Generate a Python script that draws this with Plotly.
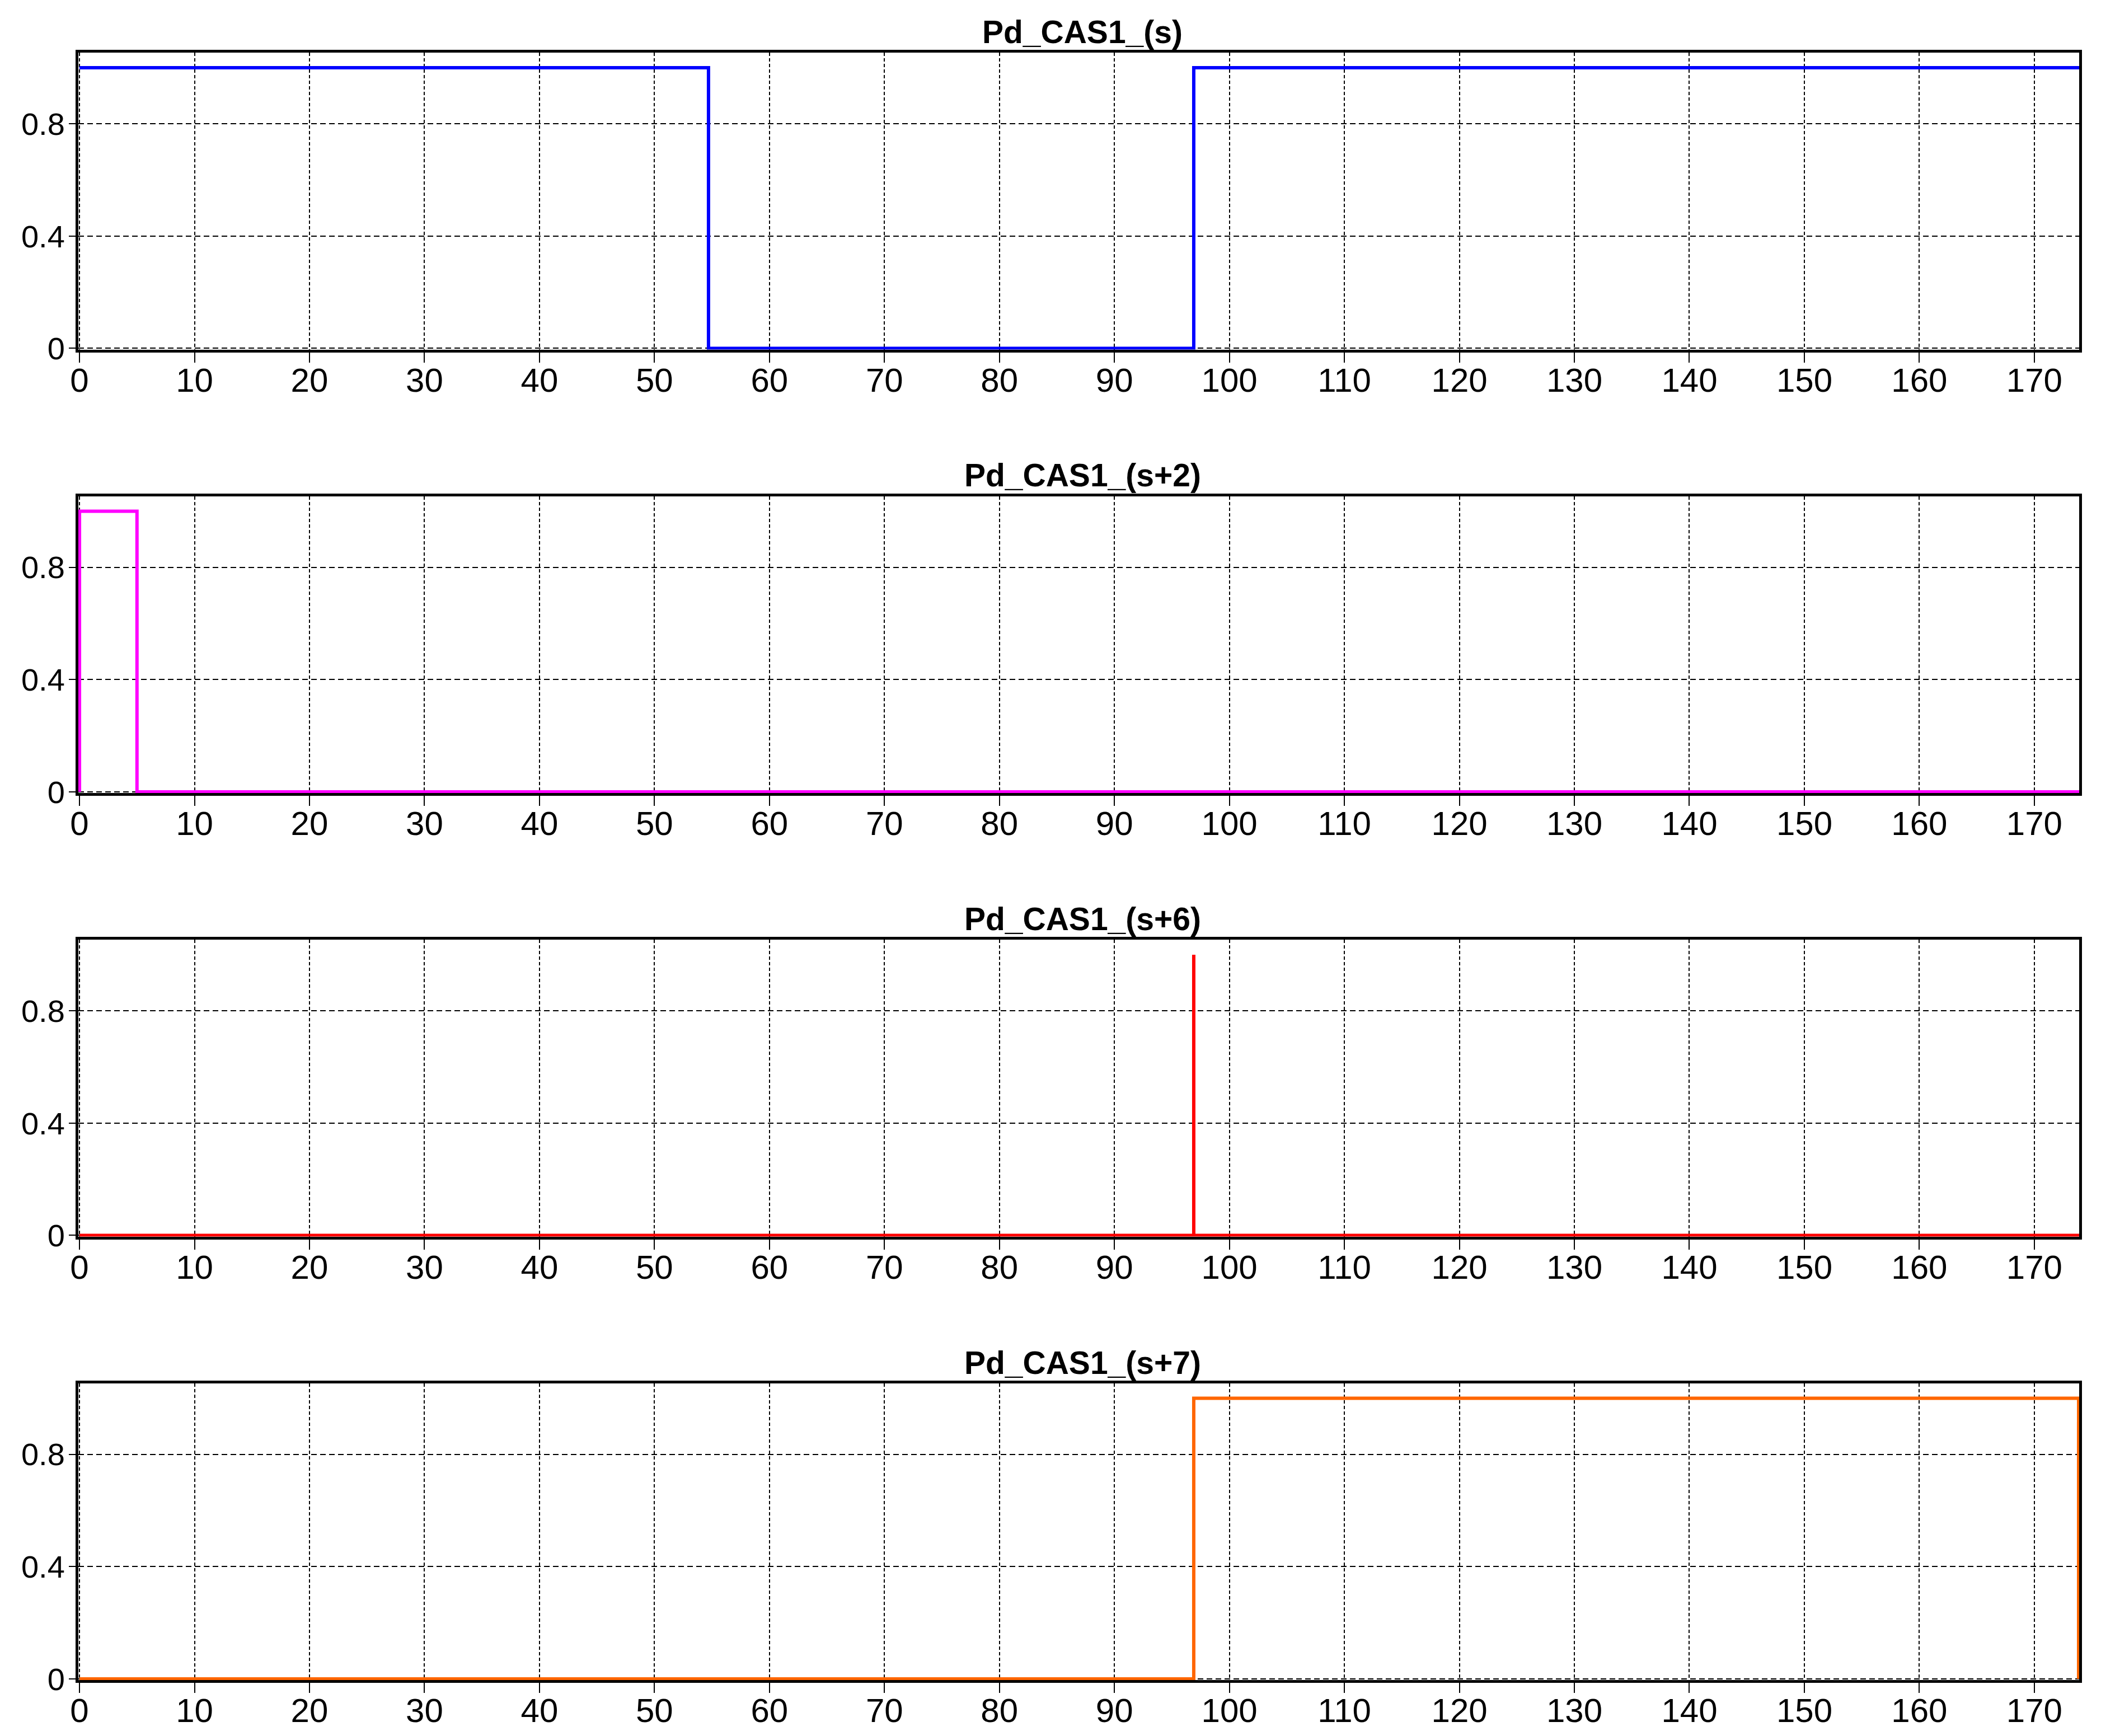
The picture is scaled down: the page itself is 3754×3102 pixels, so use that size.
import plotly.graph_objects as go

# ---- data (step signals: time of change, value after change) ----
titles = ["Pd_CAS1_(s)", "Pd_CAS1_(s+2)", "Pd_CAS1_(s+6)", "Pd_CAS1_(s+7)"]
colors = ["#0000FF", "#FF00FF", "#FF0000", "#FF6600"]

t_s = [0, 54.7, 96.9, 174]
v_s = [1, 0, 1, 1]

t_s2 = [0, 0, 5, 174]
v_s2 = [0, 1, 0, 0]

t_s6 = [0, 96.9, 96.9, 174]
v_s6 = [0, 1, 0, 0]

t_s7 = [0, 96.9, 173.85, 173.85]
v_s7 = [0, 1, 1, 0]

x_ticks = list(range(0, 171, 10))
y_ticks = [0, 0.4, 0.8]
y_ticktext = ["0", "0.4", "0.8"]

series = [(t_s, v_s), (t_s2, v_s2), (t_s6, v_s6), (t_s7, v_s7)]

W, H = 3754, 3102
OFF = 8  # default page body margin
Wf, Hf = W - 2 * OFF, H - 2 * OFF
fig = go.Figure()

# pixel layout of the 4 plot areas (page coordinates)
left_px, right_px = 140, 3715
tops = [94, 886.5, 1679, 2471.5]
bottoms = [624.5, 1417, 2209.5, 3002]
title_cx = 1934

FONT = "Liberation Sans, Arial, sans-serif"

for i, ((tx, vy), title, col) in enumerate(zip(series, titles, colors)):
    n = i + 1
    xa = "x" if n == 1 else f"x{n}"
    ya = "y" if n == 1 else f"y{n}"
    fig.add_trace(go.Scatter(x=tx, y=vy, mode="lines", line_shape="hv",
                             line=dict(color=col, width=6),
                             xaxis=xa, yaxis=ya, showlegend=False))
    ydom = [1 - (bottoms[i] - OFF) / Hf, 1 - (tops[i] - OFF) / Hf]
    xdom = [(left_px - OFF) / Wf, (right_px - OFF) / Wf]
    xkey = "xaxis" if n == 1 else f"xaxis{n}"
    ykey = "yaxis" if n == 1 else f"yaxis{n}"
    fig.update_layout(**{
        xkey: dict(domain=xdom, anchor=ya, range=[-0.1, 173.9], automargin=False,
                   tickvals=x_ticks, ticks="outside", ticklen=18, tickwidth=1.5,
                   tickcolor="black", showline=True, linewidth=5, linecolor="black",
                   mirror=True, showgrid=True, gridcolor="black", gridwidth=1.5,
                   griddash="6px,4px", zeroline=False, ticklabelstandoff=-20,
                   tickfont=dict(family=FONT, size=60, color="black")),
        ykey: dict(domain=ydom, anchor=xa, range=[-0.004, 1.054], automargin=False,
                   tickvals=y_ticks, ticktext=y_ticktext, ticks="outside",
                   ticklen=12, tickwidth=1.5, tickcolor="black", showline=True,
                   linewidth=5, linecolor="black", mirror=True, showgrid=True,
                   gridcolor="black", gridwidth=1.5, griddash="10px,6px",
                   zeroline=False, ticklabelstandoff=-4,
                   tickfont=dict(family=FONT, size=56, color="black")),
    })
    fig.add_annotation(text=f"<b>{title}</b>", xref="paper", yref="paper",
                       x=(title_cx - OFF) / Wf, y=ydom[1], xanchor="center",
                       yanchor="bottom", yshift=3, showarrow=False,
                       font=dict(family=FONT, size=57, color="black"))

fig.update_layout(width=Wf, height=Hf, margin=dict(l=0, r=0, t=0, b=0, autoexpand=False),
                  paper_bgcolor="white", plot_bgcolor="white")

fig.write_html("out.html", config={"displayModeBar": False})
